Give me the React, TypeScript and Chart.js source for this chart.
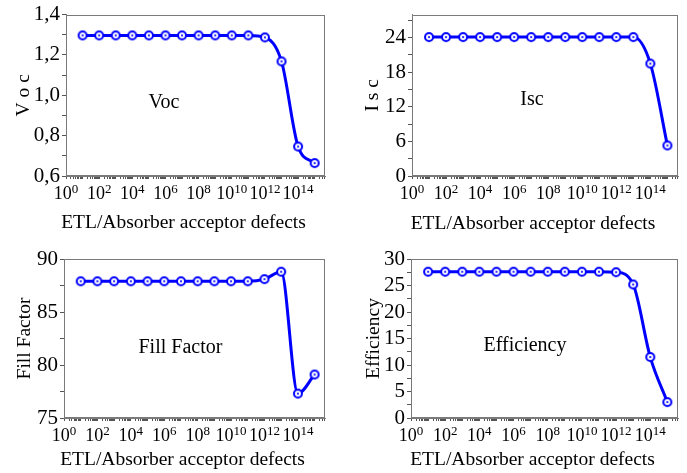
import React, { useEffect, useRef } from 'react';
import { Chart, registerables } from 'chart.js';

Chart.register(...registerables);

// ---- data ----
const defects = [1e1, 1e2, 1e3, 1e4, 1e5, 1e6, 1e7, 1e8, 1e9, 1e10, 1e11, 1e12, 1e13, 1e14, 1e15];
const vocValues = [1.297, 1.297, 1.297, 1.297, 1.297, 1.297, 1.297, 1.297, 1.297, 1.297, 1.297, 1.287, 1.168, 0.746, 0.664];
const iscValues = [24.1, 24.1, 24.1, 24.1, 24.1, 24.1, 24.1, 24.1, 24.1, 24.1, 24.1, 24.1, 24.1, 19.5, 5.3];
const ffValues = [87.9, 87.9, 87.9, 87.9, 87.9, 87.9, 87.9, 87.9, 87.9, 87.9, 87.9, 88.1, 88.8, 77.3, 79.1];
const effValues = [27.6, 27.6, 27.6, 27.6, 27.6, 27.6, 27.6, 27.6, 27.6, 27.6, 27.6, 27.5, 25.2, 11.5, 3.0];

const xTickExponents = [0, 2, 4, 6, 8, 10, 12, 14];
const xTickBase = '10';
const xTickExpLabels = ['0', '2', '4', '6', '8', '10', '12', '14'];
const xAxisTitle = 'ETL/Absorber acceptor defects';

const vocTicks = [0.6, 0.8, 1.0, 1.2, 1.4];
const vocTickLabels = ['0,6', '0,8', '1,0', '1,2', '1,4'];
const vocMinor = [0.7, 0.9, 1.1, 1.3];

const iscTicks = [0, 6, 12, 18, 24];
const iscTickLabels = ['0', '6', '12', '18', '24'];
const iscMinor = [3, 9, 15, 21, 27];

const ffTicks = [75, 80, 85, 90];
const ffTickLabels = ['75', '80', '85', '90'];
const ffMinor = [77.5, 82.5, 87.5];

const effTicks = [0, 5, 10, 15, 20, 25, 30];
const effTickLabels = ['0', '5', '10', '15', '20', '25', '30'];
const effMinor = [2.5, 7.5, 12.5, 17.5, 22.5, 27.5];

const X_MIN = 1;
const X_MAX = 4.2e15;

const FONT = "'Liberation Serif', 'Times New Roman', serif";
const BLUE = '#0000ff';

type PanelDef = {
  yTitle: string;
  label: string;
  values: number[];
  yMin: number;
  yMax: number;
  ticks: number[];
  tickLabels: string[];
  minor: number[];
  box: { left: number; top: number; w: number; h: number };
  yAxisWidth: number;
  padRight: number;
  padTop: number;
  xAxisHeight: number;
  yTitleCenter: number;
  xTitleBaseline: number;
  labelPos: { fx: number; fy: number };
};

const panels: PanelDef[] = [
  {
    yTitle: 'V o c', label: 'Voc', values: vocValues, yMin: 0.6, yMax: 1.4,
    ticks: vocTicks, tickLabels: vocTickLabels, minor: vocMinor,
    box: { left: 0, top: 0, w: 343, h: 236 }, yAxisWidth: 66, padRight: 18, padTop: 14, xAxisHeight: 60,
    yTitleCenter: 24, xTitleBaseline: 228, labelPos: { fx: 0.378, fy: 0.58 },
  },
  {
    yTitle: 'I s c', label: 'Isc', values: iscValues, yMin: 0, yMax: 28,
    ticks: iscTicks, tickLabels: iscTickLabels, minor: iscMinor,
    box: { left: 343, top: 0, w: 344, h: 236 }, yAxisWidth: 69, padRight: 9, padTop: 14, xAxisHeight: 60,
    yTitleCenter: 30, xTitleBaseline: 229, labelPos: { fx: 0.451, fy: 0.562 },
  },
  {
    yTitle: 'Fill Factor', label: 'Fill Factor', values: ffValues, yMin: 75, yMax: 90,
    ticks: ffTicks, tickLabels: ffTickLabels, minor: ffMinor,
    box: { left: 0, top: 236, w: 343, h: 237 }, yAxisWidth: 64, padRight: 18, padTop: 23, xAxisHeight: 55,
    yTitleCenter: 25, xTitleBaseline: 229, labelPos: { fx: 0.446, fy: 0.591 },
  },
  {
    yTitle: 'Efficiency', label: 'Efficiency', values: effValues, yMin: 0, yMax: 30,
    ticks: effTicks, tickLabels: effTickLabels, minor: effMinor,
    box: { left: 343, top: 236, w: 344, h: 237 }, yAxisWidth: 68, padRight: 9, padTop: 23, xAxisHeight: 55,
    yTitleCenter: 31, xTitleBaseline: 229, labelPos: { fx: 0.427, fy: 0.579 },
  },
];

function makeMarker(): HTMLCanvasElement {
  const c = document.createElement('canvas');
  c.width = 12;
  c.height = 12;
  const g = c.getContext('2d')!;
  g.beginPath();
  g.arc(6, 6, 4, 0, Math.PI * 2);
  g.fillStyle = '#ffffff';
  g.fill();
  g.lineWidth = 2;
  g.strokeStyle = BLUE;
  g.stroke();
  g.beginPath();
  g.arc(6, 6, 1.1, 0, Math.PI * 2);
  g.fillStyle = BLUE;
  g.fill();
  return c;
}

function xTickValues(): number[] {
  const out: number[] = [];
  for (let e = 0; e <= 15; e++) {
    for (let k = 1; k <= 9; k++) {
      const v = k * Math.pow(10, e);
      if (v >= X_MIN && v <= X_MAX) out.push(v);
    }
  }
  return out;
}

function Panel({ def }: { def: PanelDef }) {
  const ref = useRef<HTMLCanvasElement | null>(null);
  useEffect(() => {
    if (!ref.current) return;
    const marker = makeMarker();
    const framePlugin = {
      id: 'frame',
      beforeDatasetsDraw(chart: any) {
        const { ctx, chartArea } = chart;
        ctx.save();
        ctx.strokeStyle = '#7a7a7a';
        ctx.lineWidth = 1;
        ctx.strokeRect(Math.round(chartArea.left) + 0.5, Math.round(chartArea.top) + 0.5,
          Math.round(chartArea.right - chartArea.left) - 1, Math.round(chartArea.bottom - chartArea.top) - 1);
        ctx.restore();
      },
      afterDraw(chart: any) {
        const { ctx, chartArea } = chart;
        const xs = chart.scales.x;
        ctx.save();
        ctx.fillStyle = '#000';
        // panel label
        ctx.font = `20px ${FONT}`;
        ctx.textAlign = 'center';
        ctx.textBaseline = 'alphabetic';
        ctx.fillText(def.label,
          chartArea.left + def.labelPos.fx * (chartArea.right - chartArea.left),
          chartArea.top + def.labelPos.fy * (chartArea.bottom - chartArea.top));
        // x tick labels 10^n
        ctx.textAlign = 'left';
        const baseY = chartArea.bottom + 23;
        xTickExponents.forEach((e, i) => {
          const px = xs.getPixelForValue(Math.pow(10, e));
          ctx.font = `18px ${FONT}`;
          const wb = ctx.measureText(xTickBase).width;
          ctx.font = `13px ${FONT}`;
          const we = ctx.measureText(xTickExpLabels[i]).width;
          const start = px - (wb + we) / 2;
          ctx.font = `18px ${FONT}`;
          ctx.fillText(xTickBase, start, baseY);
          ctx.font = `13px ${FONT}`;
          ctx.fillText(xTickExpLabels[i], start + wb, baseY - 6);
        });
        // x title
        ctx.font = `19.5px ${FONT}`;
        ctx.textAlign = 'center';
        ctx.fillText(xAxisTitle, (chartArea.left + chartArea.right) / 2 - 12, def.xTitleBaseline);
        ctx.restore();
      },
    };
    const yAll = [...def.ticks, ...def.minor].sort((a, b) => a - b);
    const half = (19.5 * 1.2) / 2;
    const chart = new Chart(ref.current, {
      type: 'line',
      data: {
        datasets: [
          {
            data: defects.map((x, i) => ({ x, y: def.values[i] })),
            borderColor: BLUE,
            backgroundColor: BLUE,
            borderWidth: 3,
            cubicInterpolationMode: 'monotone',
            pointStyle: marker as any,
            pointRadius: 5,
            fill: false,
          },
        ],
      },
      options: {
        animation: false,
        responsive: false,
        devicePixelRatio: 1,
        layout: { padding: { left: 0, right: def.padRight, top: def.padTop, bottom: 0 } },
        plugins: { legend: { display: false }, tooltip: { enabled: false }, title: { display: false } },
        scales: {
          x: {
            type: 'logarithmic',
            min: X_MIN,
            max: X_MAX,
            afterBuildTicks: (scale: any) => {
              scale.ticks = xTickValues().map((value) => ({ value }));
            },
            afterFit: (scale: any) => {
              scale.height = def.xAxisHeight;
            },
            grid: { drawOnChartArea: false, drawTicks: true, tickLength: 3, tickColor: '#555', lineWidth: 1 },
            border: { display: true, color: '#7a7a7a' },
            ticks: {
              autoSkip: false,
              maxRotation: 0,
              minRotation: 0,
              callback: () => '',
            },
            title: { display: false },
          },
          y: {
            type: 'linear',
            min: def.yMin,
            max: def.yMax,
            afterBuildTicks: (scale: any) => {
              scale.ticks = yAll.map((value) => ({ value }));
            },
            afterFit: (scale: any) => {
              scale.width = def.yAxisWidth;
            },
            grid: { drawOnChartArea: false, drawTicks: true, tickLength: 4, tickColor: '#555', lineWidth: 1 },
            border: { display: true, color: '#7a7a7a' },
            ticks: {
              autoSkip: false,
              padding: 2,
              color: '#000',
              font: { family: FONT, size: 21 },
              callback: (v: any) => {
                const n = Number(v);
                const idx = def.ticks.findIndex((t) => Math.abs(t - n) < 1e-9);
                return idx >= 0 ? def.tickLabels[idx] : '';
              },
            },
            title: {
              display: true,
              text: def.yTitle,
              color: '#000',
              font: { family: FONT, size: 19.5 },
              padding: { top: def.yTitleCenter - half, bottom: 0 },
            },
          },
        },
      },
      plugins: [framePlugin],
    } as any);
    return () => chart.destroy();
  }, [def]);
  return (
    <canvas
      ref={ref}
      width={def.box.w}
      height={def.box.h}
      style={{ position: 'absolute', left: def.box.left, top: def.box.top, width: def.box.w, height: def.box.h }}
    />
  );
}

export default function App() {
  return (
    <div style={{ position: 'fixed', left: 0, top: 0, width: 687, height: 473, background: '#fff' }}>
      {panels.map((p, i) => (
        <Panel key={i} def={p} />
      ))}
    </div>
  );
}
